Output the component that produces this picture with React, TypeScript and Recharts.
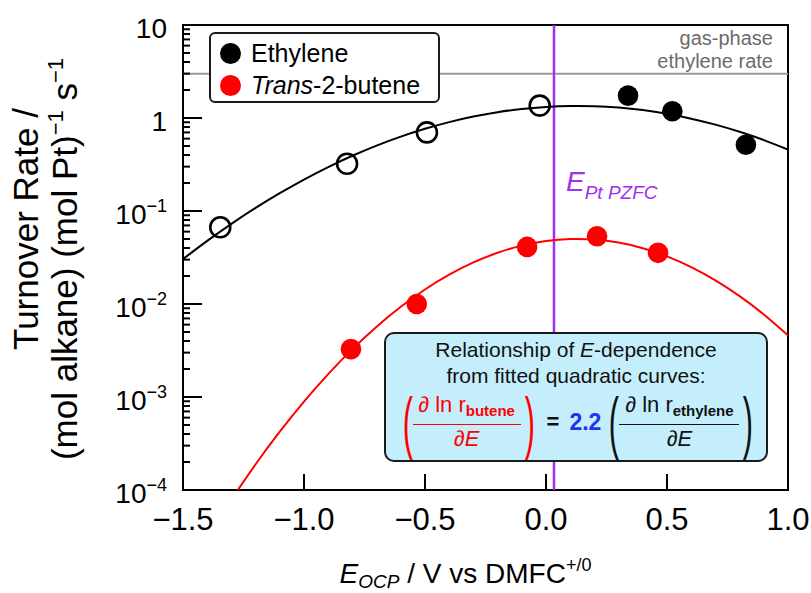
import React from 'react';
import {
  ComposedChart,
  Line,
  Scatter,
  XAxis,
  YAxis,
  ReferenceLine,
  ReferenceArea,
  Legend,
} from 'recharts';

const FONT = '"Liberation Sans", Arial, Helvetica, sans-serif';

// ---- fitted curves ----
const ethyleneFitE = [-1.5, -1.4, -1.3, -1.2, -1.1, -1.0, -0.9, -0.8, -0.7, -0.6, -0.5, -0.4, -0.3, -0.2, -0.1, 0.0, 0.1, 0.2, 0.3, 0.4, 0.5, 0.6, 0.7, 0.8, 0.9, 1.0];
const ethyleneFitRate = [0.0304, 0.0477, 0.0728, 0.108, 0.1556, 0.218, 0.2967, 0.3925, 0.5047, 0.6304, 0.7655, 0.9033, 1.036, 1.155, 1.251, 1.316, 1.347, 1.34, 1.294, 1.216, 1.109, 0.984, 0.848, 0.711, 0.579, 0.458];

const buteneFitE = [-1.3, -1.2, -1.1, -1.0, -0.9, -0.8, -0.7, -0.6, -0.5, -0.4, -0.3, -0.2, -0.1, 0.0, 0.1, 0.2, 0.3, 0.4, 0.5, 0.6, 0.7, 0.8, 0.9, 1.0];
const buteneFitRate = [0.0000791, 0.000189, 0.000424, 0.000893, 0.001764, 0.003274, 0.0057, 0.00933, 0.01433, 0.02066, 0.02797, 0.03554, 0.04242, 0.04751, 0.04998, 0.04935, 0.04574, 0.03982, 0.03254, 0.02496, 0.01798, 0.01216, 0.00772, 0.0046];

// ---- measured points ----
const ethyleneOpenE = [-1.346, -0.822, -0.492, -0.026];
const ethyleneOpenRate = [0.0668, 0.322, 0.7, 1.36];
const ethyleneFilledE = [0.339, 0.522, 0.826];
const ethyleneFilledRate = [1.74, 1.18, 0.515];
const buteneE = [-0.806, -0.534, -0.078, 0.211, 0.463];
const buteneRate = [0.00327, 0.01, 0.0411, 0.0535, 0.0355];

// ---- references ----
const gasPhaseEthyleneRate = 3.0;
const ePtPZFC = 0.033;

// ---- axes ----
const xTicks = [-1.5, -1.0, -0.5, 0.0, 0.5, 1.0];
const yMajorTicks = [0.0001, 0.001, 0.01, 0.1, 1, 10];
const yMinorMultipliers = [2, 3, 4, 5, 6, 7, 8, 9];
const legendItems = [
  { name: 'Ethylene', italicPart: '', color: '#000000' },
  { name: '-2-butene', italicPart: 'Trans', color: '#ff0000' },
];

const yTicks: number[] = [];
yMajorTicks.forEach((m, i) => {
  yTicks.push(m);
  if (i < yMajorTicks.length - 1) yMinorMultipliers.forEach((k) => yTicks.push(+(m * k).toPrecision(6)));
});

const toPts = (xs: number[], ys: number[]) => xs.map((x, i) => ({ x, y: ys[i] }));
const ethyleneFit = toPts(ethyleneFitE, ethyleneFitRate);
const buteneFit = toPts(buteneFitE, buteneFitRate);
const ethyleneOpen = toPts(ethyleneOpenE, ethyleneOpenRate);
const ethyleneFilled = toPts(ethyleneFilledE, ethyleneFilledRate);
const butene = toPts(buteneE, buteneRate);

const X_TICK_MARGIN = 10;
const Y_TICK_MARGIN = 16;
const PURPLE = '#a030f0';

const isMajor = (v: number) => yMajorTicks.some((m) => Math.abs(v - m) / m < 1e-6);

const YTick = (props: any) => {
  const { x, y, payload } = props;
  const v = payload.value;
  const ax = x + Y_TICK_MARGIN;
  const major = isMajor(v);
  const exp = Math.round(Math.log10(v));
  return (
    <g>
      <line x1={ax} x2={ax + (major ? 19 : 7)} y1={y} y2={y} stroke="#000" strokeWidth={2} />
      {major && (
        <text x={x} y={y + 13} textAnchor="end" fontSize={28} fontFamily={FONT} fill="#000">
          {exp === 1 ? '10' : exp === 0 ? '1' : (
            <>
              <tspan>10</tspan>
              <tspan fontSize={18} dy={-12}>{'\u2212' + Math.abs(exp)}</tspan>
            </>
          )}
        </text>
      )}
    </g>
  );
};

const XTick = (props: any) => {
  const { x, y, payload } = props;
  const ay = y - X_TICK_MARGIN;
  const label = payload.value.toFixed(1).replace('-', '\u2212');
  return (
    <g>
      <line x1={x} x2={x} y1={ay} y2={ay - 16} stroke="#000" strokeWidth={2} />
      <text x={x} y={ay + 40} textAnchor="middle" fontSize={31} fontFamily={FONT} fill="#000">
        {label}
      </text>
    </g>
  );
};

const openCircle = (p: any) => (
  <circle cx={p.cx} cy={p.cy} r={10} fill="none" stroke="#000" strokeWidth={2.6} />
);
const filledBlack = (p: any) => <circle cx={p.cx} cy={p.cy} r={10.3} fill="#000" />;
const filledRed = (p: any) => <circle cx={p.cx} cy={p.cy} r={10.3} fill="#ff0000" />;

const GasLabel = (props: any) => {
  const vb = props.viewBox || {};
  const rx = vb.x + vb.width - 15;
  return (
    <g fontFamily={FONT} fontSize={20} fill="#6b6b6b">
      <text x={rx} y={vb.y - 29} textAnchor="end">gas-phase</text>
      <text x={rx} y={vb.y - 6} textAnchor="end">ethylene rate</text>
    </g>
  );
};

const PzfcLabel = (props: any) => {
  const vb = props.viewBox || {};
  return (
    <text x={vb.x + 12} y={vb.y + 166} fontFamily={FONT} fill={PURPLE} fontStyle="italic">
      <tspan fontSize={28}>E</tspan>
      <tspan fontSize={19} dy={8}>Pt PZFC</tspan>
    </text>
  );
};

const YTitle = () => (
  <g fontFamily={FONT} fill="#000" fontSize={35}>
    <text x={38} y={229} textAnchor="middle" transform="rotate(-90 38 229)">Turnover Rate /</text>
    <text x={77} y={259} textAnchor="middle" transform="rotate(-90 77 259)">
      <tspan>(mol alkane) (mol Pt)</tspan>
      <tspan fontSize={22} dy={-14}>{'\u22121'}</tspan>
      <tspan dy={14}> s</tspan>
      <tspan fontSize={22} dy={-14}>{'\u22121'}</tspan>
    </text>
  </g>
);

const XTitle = (props: any) => {
  const vb = props.viewBox || {};
  const cx = vb.x + vb.width / 2 - 20;
  return (
    <text x={cx} y={583} textAnchor="middle" fontFamily={FONT} fontSize={28} fill="#000">
      <tspan fontStyle="italic">E</tspan>
      <tspan fontStyle="italic" fontSize={19} dy={5}>OCP</tspan>
      <tspan dy={-5}> / V vs DMFC</tspan>
      <tspan fontSize={18} dy={-12}>+/0</tspan>
    </text>
  );
};

const LegendBox = () => (
  <div
    style={{
      boxSizing: 'border-box',
      width: 231,
      height: 71,
      border: '2px solid #1a1a1a',
      borderRadius: 6,
      background: '#fff',
      padding: '3px 0 0 9px',
      fontFamily: FONT,
      fontSize: 25,
      color: '#000',
    }}
  >
    {legendItems.map((it) => (
      <div key={it.name} style={{ display: 'flex', alignItems: 'center', height: 32 }}>
        <span style={{ display: 'inline-block', width: 21, height: 21, borderRadius: '50%', background: it.color, marginRight: 10 }} />
        <span>
          {it.italicPart && <i>{it.italicPart}</i>}
          {it.name}
        </span>
      </div>
    ))}
  </div>
);

const Paren = ({ ch, color }: { ch: string; color: string }) => (
  <span
    style={{
      display: 'inline-block',
      fontSize: 68,
      lineHeight: '66px',
      color,
      transform: 'scaleX(0.45)',
      width: 14,
      textAlign: 'center',
    }}
  >
    {ch}
  </span>
);

const Frac = ({ sub, color, width }: { sub: string; color: string; width: number }) => (
  <span style={{ display: 'inline-flex', flexDirection: 'column', alignItems: 'center', color, width }}>
    <span style={{ fontSize: 22, lineHeight: '27px', whiteSpace: 'nowrap' }}>
      {'\u2202 ln r'}
      <sub style={{ fontSize: 15, fontWeight: 'bold', verticalAlign: '-4px' }}>{sub}</sub>
    </span>
    <span style={{ width: '100%', height: 0, borderTop: '1.5px solid ' + color }} />
    <span style={{ fontSize: 22, lineHeight: '28px' }}>
      {'\u2202'}<i>E</i>
    </span>
  </span>
);

const EquationBox = () => (
  <div
    style={{
      position: 'absolute',
      left: 384,
      top: 332,
      width: 384,
      height: 130,
      boxSizing: 'border-box',
      background: '#c4eefb',
      border: '2px solid #1a1a1a',
      borderRadius: 10,
      fontFamily: FONT,
      color: '#111',
      textAlign: 'center',
    }}
  >
    <div style={{ fontSize: 21, lineHeight: '26px', marginTop: 3 }}>
      Relationship of <i>E</i>-dependence
    </div>
    <div style={{ fontSize: 21, lineHeight: '26px' }}>from fitted quadratic curves:</div>
    <div style={{ display: 'flex', alignItems: 'center', justifyContent: 'center', height: 66 }}>
      <Paren ch="(" color="#ff0000" />
      <Frac sub="butene" color="#ff0000" width={108} />
      <Paren ch=")" color="#ff0000" />
      <span style={{ fontSize: 22, fontWeight: 'bold', margin: '0 10px 0 12px' }}>=</span>
      <span style={{ fontSize: 23, fontWeight: 'bold', color: '#2233ee', marginRight: 4 }}>2.2</span>
      <Paren ch="(" color="#111" />
      <Frac sub="ethylene" color="#111" width={120} />
      <Paren ch=")" color="#111" />
    </div>
  </div>
);

export default function App() {
  return (
    <div style={{ position: 'absolute', left: 0, top: 0, width: 811, height: 593, background: '#fff' }}>
      <ComposedChart width={811} height={593} margin={{ top: 25, right: 23, left: 0, bottom: 0 }}>
        <XAxis
          dataKey="x"
          type="number"
          domain={[-1.5, 1.0]}
          allowDataOverflow
          ticks={xTicks}
          interval={0}
          height={103}
          tickSize={0}
          tickMargin={X_TICK_MARGIN}
          tickLine={false}
          axisLine={false}
          tick={(p: any) => <XTick {...p} />}
          label={(p: any) => <XTitle {...p} />}
        />
        <YAxis
          dataKey="y"
          type="number"
          scale="log"
          domain={[0.0001, 10]}
          allowDataOverflow
          ticks={yTicks}
          interval={0}
          width={183}
          tickSize={0}
          tickMargin={Y_TICK_MARGIN}
          tickLine={false}
          axisLine={false}
          tick={(p: any) => <YTick {...p} />}
          label={() => <YTitle />}
        />
        <ReferenceLine
          y={gasPhaseEthyleneRate}
          stroke="#9a9a9a"
          strokeWidth={2}
          label={(p: any) => <GasLabel {...p} />}
        />
        <ReferenceLine x={ePtPZFC} stroke={PURPLE} strokeWidth={2.5} label={(p: any) => <PzfcLabel {...p} />} />
        <Line
          data={ethyleneFit}
          dataKey="y"
          type="natural"
          stroke="#000"
          strokeWidth={2}
          dot={false}
          activeDot={false}
          legendType="none"
          isAnimationActive={false}
        />
        <Line
          data={buteneFit}
          dataKey="y"
          type="natural"
          stroke="#ff0000"
          strokeWidth={2}
          dot={false}
          activeDot={false}
          legendType="none"
          isAnimationActive={false}
        />
        <Scatter name="Ethylene (open)" data={ethyleneOpen} shape={openCircle} legendType="none" isAnimationActive={false} />
        <Scatter name="Ethylene" data={ethyleneFilled} shape={filledBlack} fill="#000" isAnimationActive={false} />
        <Scatter name="Trans-2-butene" data={butene} shape={filledRed} fill="#ff0000" isAnimationActive={false} />
        <ReferenceArea
          x1={-1.5}
          x2={1.0}
          y1={0.0001}
          y2={10}
          fill="none"
          stroke="#000"
          strokeWidth={2}
          ifOverflow="visible"
        />
        <Legend
          layout="vertical"
          align="center"
          verticalAlign="middle"
          content={() => <LegendBox />}
          wrapperStyle={{ left: 209, top: 32, width: 231, height: 71 }}
        />
      </ComposedChart>
      <EquationBox />
    </div>
  );
}
